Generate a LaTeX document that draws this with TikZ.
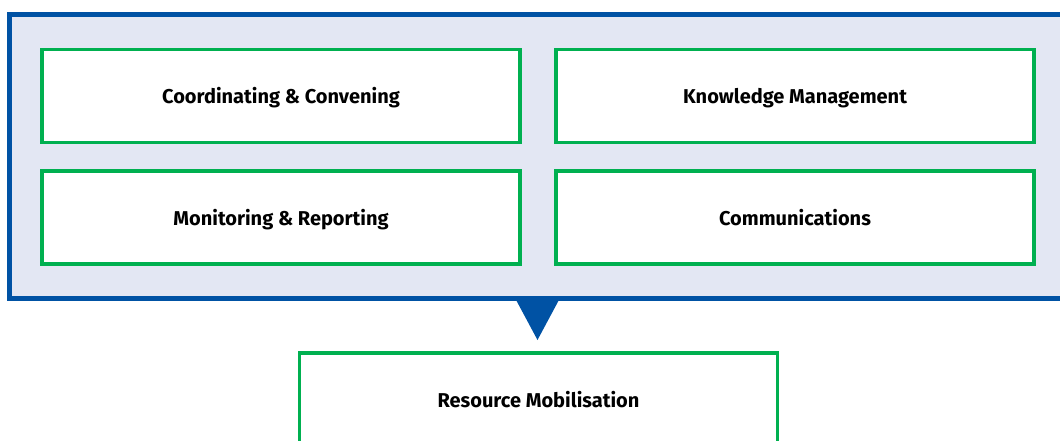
\documentclass[tikz,border=0pt]{standalone}
\usepackage{fontspec}
\setmainfont{Fira Sans}
\definecolor{frameblue}{HTML}{0052A4}
\definecolor{panel}{HTML}{E3E7F3}
\definecolor{boxgreen}{HTML}{00B050}
\begin{document}
\begin{tikzpicture}[x=1pt,y=-1pt,
  item/.style={draw=boxgreen,line width=3.5pt,fill=white,minimum width=478pt,minimum height=93pt,inner sep=0pt,font=\fontsize{20}{24}\selectfont\bfseries,text=black,text height=20pt,text depth=4pt},
  outer/.style={draw=frameblue,fill=panel,line width=5pt}]
\useasboundingbox (0,0) rectangle (1060,441);
\begin{scope}
\clip (0,0) rectangle (1060,441);
\draw[outer] (9.5,15) rectangle (1070,298.5);
\node[item] (cc) at (281,96) {Coordinating \& Convening};
\node[item] (km) at (795,96) {Knowledge Management};
\node[item] (mr) at (281,217.5) {Monitoring \& Reporting};
\node[item] (cm) at (795,217.5) {Communications};
\coordinate (tl) at (515,298);
\coordinate (tr) at (560,298);
\coordinate (tip) at (537.5,340);
\fill[frameblue] (tl) -- (tr) -- (tip) -- cycle;
\node[item,minimum height=100pt] (rm) at (538.5,403) {};
\node[font=\fontsize{20}{24}\selectfont\bfseries,text height=14pt,text depth=4pt,inner sep=0pt] (rmt) at (538.5,402) {Resource Mobilisation};
\end{scope}
\end{tikzpicture}
\end{document}
